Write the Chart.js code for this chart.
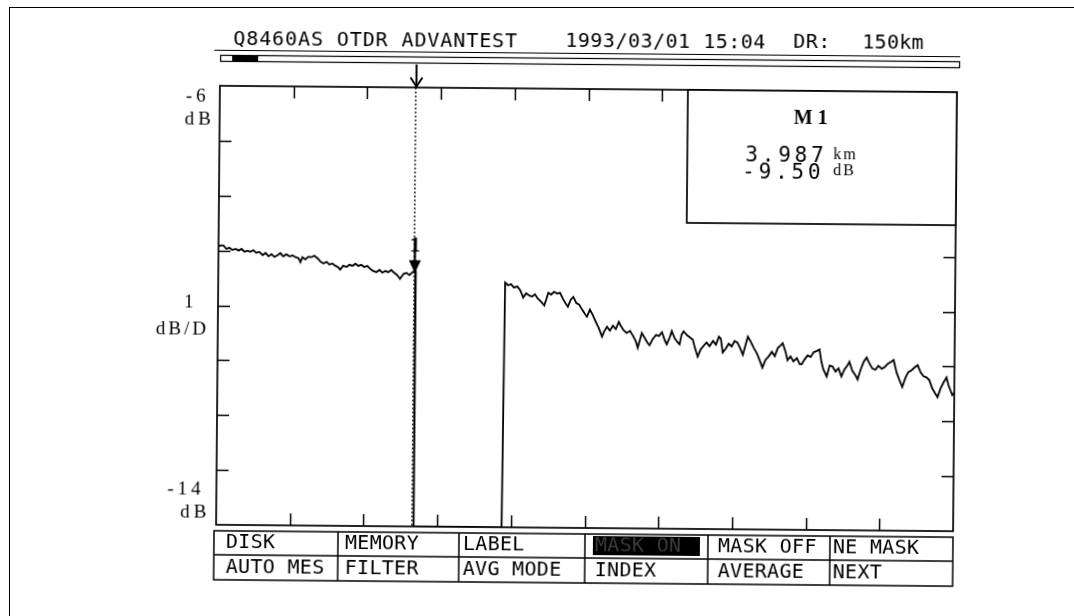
<!DOCTYPE html>
<html>
<head>
<meta charset="utf-8">
<title>OTDR Q8460AS</title>
<script src="https://cdn.jsdelivr.net/npm/chart.js@4.4.0/dist/chart.umd.min.js"></script>
<style>
  html, body { margin: 0; padding: 0; background: #fff; }
  body { width: 1074px; height: 616px; overflow: hidden; position: relative; }
  /* borda do papel (nao esta inclinada como a tela) */
  #papel { position: absolute; left: 9px; top: 7px; width: 1200px; height: 700px;
           border-left: 1.5px solid #000; border-top: 1.5px solid #000; }
  /* a copia escaneada esta levemente girada */
  #tela { position: absolute; left: 0; top: 0; transform-origin: 587px 308px; transform: rotate(0.5deg); }
</style>
</head>
<body>
<div id="papel"></div>
<canvas id="tela" width="1074" height="616"></canvas>
<script>
// Dados do traco (km, dB)
const nearKm = [0.00,0.04,0.10,0.16,0.22,0.28,0.35,0.41,0.47,0.53,0.59,0.65,0.71,0.77,0.83,0.90,0.96,1.02,1.08,1.14,
  1.20,1.26,1.32,1.38,1.45,1.51,1.57,1.63,1.67,1.71,1.77,1.83,1.89,1.95,2.02,2.08,2.14,2.20,2.26,2.32,
  2.38,2.44,2.48,2.54,2.61,2.67,2.73,2.79,2.85,2.91,2.97,3.03,3.09,3.15,3.22,3.28,3.34,3.40,3.46,3.52,
  3.58,3.64,3.70,3.77,3.83,3.89,3.95,4.01];
const nearDb = [-8.93,-8.91,-8.91,-8.97,-8.95,-8.99,-8.97,-9.00,-8.97,-9.02,-9.00,-9.02,-8.99,-9.04,-9.02,-9.08,-9.04,-9.10,-9.06,-9.11,
  -9.08,-9.04,-9.10,-9.06,-9.10,-9.08,-9.11,-9.13,-9.20,-9.11,-9.15,-9.10,-9.11,-9.08,-9.13,-9.19,-9.22,-9.19,-9.24,-9.22,
  -9.26,-9.29,-9.33,-9.26,-9.28,-9.24,-9.26,-9.22,-9.26,-9.24,-9.28,-9.26,-9.31,-9.35,-9.37,-9.33,-9.38,-9.35,-9.37,-9.33,
  -9.38,-9.42,-9.49,-9.40,-9.38,-9.42,-9.37,-9.33];

// zona morta depois do evento
const deadKm = [4.02, 5.81];
const deadDb = [-14, -14];

const farKm = [5.84,5.90,5.96,6.02,6.09,6.15,6.21,6.27,6.33,6.39,6.45,6.51,6.57,6.64,6.68,6.72,6.78,6.84,6.90,6.96,
  7.02,7.08,7.12,7.18,7.23,7.29,7.35,7.41,7.47,7.51,7.57,7.63,7.69,7.75,7.82,7.86,7.92,7.98,8.04,8.10,
  8.16,8.20,8.26,8.32,8.39,8.45,8.51,8.55,8.59,8.63,8.69,8.75,8.79,
  8.85,8.92,8.98,9.04,9.10,9.14,9.20,9.24,9.30,9.36,9.40,9.44,9.48,9.55,9.61,9.67,9.71,9.77,9.83,9.89,
  9.95,10.01,10.08,10.14,10.20,10.24,10.28,10.34,10.40,10.46,10.52,10.58,10.65,10.69,10.75,10.79,10.85,10.91,10.97,11.03,
  11.09,11.15,11.22,11.28,11.34,11.40,11.46,11.50,11.56,11.60,11.66,11.72,11.79,11.85,
  11.89,11.95,12.01,12.07,12.13,12.19,12.25,12.29,12.33,12.40,12.46,12.52,12.58,12.64,12.70,12.76,12.82,12.86,12.92,12.99,
  13.03,13.09,13.15,13.21,13.27,13.33,13.39,13.45,13.52,13.58,13.64,13.70,13.76,13.82,13.88,13.94,14.00,14.06,14.13,14.19,
  14.25,14.31,14.37,14.43,14.49,14.55,14.61,14.66,14.72,14.78,14.84,14.88,14.92,14.96,15.00];
const farDb = [-9.54,-9.59,-9.57,-9.63,-9.61,-9.68,-9.81,-9.73,-9.77,-9.79,-9.75,-9.83,-9.88,-9.95,-9.84,-9.72,-9.75,-9.70,-9.73,-9.72,
  -9.83,-9.92,-9.97,-9.84,-9.79,-9.90,-9.93,-10.02,-10.10,-10.15,-10.02,-10.12,-10.24,-10.35,-10.51,-10.42,-10.33,-10.40,-10.31,-10.37,
  -10.24,-10.31,-10.39,-10.44,-10.40,-10.49,-10.59,-10.71,-10.57,-10.44,-10.53,-10.62,-10.66,
  -10.55,-10.47,-10.49,-10.42,-10.57,-10.64,-10.51,-10.40,-10.53,-10.60,-10.64,-10.46,-10.40,-10.47,-10.51,-10.55,-10.69,-10.86,-10.73,-10.66,
  -10.60,-10.67,-10.57,-10.64,-10.49,-10.53,-10.78,-10.71,-10.62,-10.67,-10.57,-10.60,-10.73,-10.82,-10.62,-10.49,-10.58,-10.69,-10.78,-10.91,
  -11.05,-10.91,-10.84,-10.76,-10.84,-10.69,-10.64,-10.60,-10.76,-10.91,-10.84,-10.93,-10.87,-10.98,
  -10.98,-10.89,-10.82,-10.85,-10.76,-10.74,-10.71,-10.93,-11.07,-11.20,-11.00,-11.02,-11.11,-11.05,-11.20,-11.07,-11.00,-10.93,-11.09,-11.18,
  -11.25,-11.07,-10.93,-10.85,-10.96,-11.05,-11.07,-11.00,-11.05,-11.02,-10.96,-10.93,-10.89,-11.11,-11.25,-11.38,-11.22,-11.11,-11.07,-11.02,
  -10.98,-11.11,-11.18,-11.20,-11.25,-11.40,-11.49,-11.56,-11.40,-11.29,-11.20,-11.34,-11.43,-11.52,-11.47];

// Escalas (divisoes da tela)
const xTicksKm = [0, 1.5, 3, 4.5, 6, 7.5, 9, 10.5, 12, 13.5, 15];
const yTicksDb = [-14, -13, -12, -11, -10, -9, -8, -7, -6];

// Marcador M1
const markerKm = 3.987;
const markerDb = -9.50;

// Textos da tela
const headerModel = 'Q8460AS OTDR ADVANTEST';
const headerDate = '1993/03/01 15:04';
const headerRangeLabel = 'DR:';
const headerRange = '150km';
const softkeysTop = ['DISK', 'MEMORY', 'LABEL', 'MASK ON', 'MASK OFF', 'NE MASK'];
const softkeysBottom = ['AUTO MES', 'FILTER', 'AVG MODE', 'INDEX', 'AVERAGE', 'NEXT'];

function pares(km, db) {
    return km.map((k, i) => ({ x: k, y: db[i] }));
}

function linha(ctx, x1, y1, x2, y2) {
    ctx.beginPath();
    ctx.moveTo(x1, y1);
    ctx.lineTo(x2, y2);
    ctx.stroke();
}

function texto(ctx, str, x, y, font, spacing, baseline) {
    ctx.font = font;
    ctx.letterSpacing = (spacing || 0) + 'px';
    ctx.textAlign = 'left';
    ctx.textBaseline = baseline || 'middle';
    ctx.fillText(str, x, y);
}

const MONO = '"DejaVu Sans Mono", monospace';
const SERIF = '"Liberation Serif", serif';

// Plugin que desenha a moldura e os textos do OTDR
const telaOtdr = {
    id: 'telaOtdr',
    afterDraw: (chart) => {
        const ctx = chart.ctx;
        const a = chart.chartArea;
        const x = chart.scales.x;
        const y = chart.scales.y;
        ctx.save();
        ctx.strokeStyle = '#000';
        ctx.fillStyle = '#000';

        // marcas internas das divisoes
        ctx.lineWidth = 1.5;
        const tl = 12;
        yTicksDb.slice(1, -1).forEach(v => {
            const py = Math.round(y.getPixelForValue(v)) + 0.5;
            linha(ctx, a.left, py, a.left + tl, py);
            linha(ctx, a.right, py, a.right - tl, py);
        });
        xTicksKm.slice(1, -1).forEach(v => {
            const px = Math.round(x.getPixelForValue(v)) + 0.5;
            linha(ctx, px, a.bottom, px, a.bottom - tl);
            linha(ctx, px, a.top, px, a.top + tl);
        });

        // moldura
        ctx.lineWidth = 1.7;
        ctx.strokeRect(a.left, a.top, a.right - a.left, a.bottom - a.top);

        // caixa do marcador
        const bx = 686, by = a.top, bw = a.right - 686, bh = 222 - a.top;
        ctx.fillStyle = '#fff';
        ctx.fillRect(bx, by, bw, bh);
        ctx.fillStyle = '#000';
        ctx.strokeRect(bx, by, bw, bh);
        texto(ctx, 'M1', 792, 122, 'bold 20px ' + SERIF, 5, 'alphabetic');
        texto(ctx, markerKm.toFixed(3), 744, 160, '21px ' + MONO, 3.8, 'alphabetic');
        texto(ctx, 'km', 832, 157, '16px ' + SERIF, 2, 'alphabetic');
        texto(ctx, markerDb.toFixed(2), 741, 177, '21px ' + MONO, 3.8, 'alphabetic');
        texto(ctx, 'dB', 832, 173, '16px ' + SERIF, 2, 'alphabetic');

        // rotulos do eixo Y
        const yTop = y.getPixelForValue(yTicksDb[yTicksDb.length - 1]);
        const yMid = y.getPixelForValue(-10);
        const yBot = y.getPixelForValue(yTicksDb[0]);
        const lf = '19px ' + SERIF;
        texto(ctx, '-6', 184, yTop + 11, lf, 4);
        texto(ctx, 'dB', 183, yTop + 34, lf, 4);
        texto(ctx, '1', 184, yMid - 2, lf, 4);
        texto(ctx, 'dB/D', 156, yMid + 25, lf, 3);
        texto(ctx, '-14', 169, yBot - 35, lf, 4);
        texto(ctx, 'dB', 182, yBot - 12, lf, 4);

        // seta do marcador no topo
        const mx = Math.round(x.getPixelForValue(markerKm)) + 0.5;
        ctx.lineWidth = 2;
        linha(ctx, mx, 66, mx, a.top - 1);
        ctx.beginPath();
        ctx.moveTo(mx - 6, a.top - 10);
        ctx.lineTo(mx, a.top - 1);
        ctx.lineTo(mx + 6, a.top - 10);
        ctx.stroke();

        // marcador "1" sobre o traco
        let iMin = 0;
        nearKm.forEach((k, i) => { if (Math.abs(k - markerKm) < Math.abs(nearKm[iMin] - markerKm)) iMin = i; });
        const tipY = y.getPixelForValue(nearDb[iMin]) + 3;
        ctx.lineWidth = 2.2;
        linha(ctx, mx, tipY - 22, mx, tipY - 12);
        ctx.beginPath();
        ctx.moveTo(mx - 6, tipY - 13);
        ctx.lineTo(mx + 6, tipY - 13);
        ctx.lineTo(mx, tipY);
        ctx.closePath();
        ctx.fill();
        ctx.textAlign = 'center';
        ctx.font = 'bold 22px ' + SERIF;
        ctx.letterSpacing = '0px';
        ctx.textBaseline = 'alphabetic';
        ctx.fillText('1', mx, tipY - 22);

        // cabecalho
        const hf = '20px ' + MONO;
        texto(ctx, headerModel, 231, 43, hf, 0.9);
        texto(ctx, headerDate, 563, 42, hf, 0.5);
        texto(ctx, headerRangeLabel, 791, 41, hf, 0.5);
        texto(ctx, headerRange, 860, 41, hf, 0.3);
        ctx.lineWidth = 1.2;
        linha(ctx, 212, 53.5, 958, 53.5);
        ctx.strokeRect(218.5, 58.5, 739, 6);
        ctx.fillRect(230, 58.5, 26, 6);

        // teclas de funcao
        const tTop = 534, tMid = 558, tBot = 583, tLeft = 216, tRight = a.right;
        const divs = [340, 461, 587, 710, 832];
        const textX = [228, 347, 465, 597, 720, 835];
        ctx.lineWidth = 1.5;
        ctx.strokeRect(tLeft, tTop, tRight - tLeft, tBot - tTop);
        linha(ctx, tLeft, tMid, tRight, tMid);
        divs.forEach(d => linha(ctx, d, tTop, d, tBot));
        ctx.fillRect(595, 536, 107, 19);
        const sf = '20px ' + MONO;
        softkeysTop.forEach((s, i) => {
            ctx.fillStyle = i === 3 ? '#3a3a3a' : '#000';
            texto(ctx, s, textX[i], 546, sf, 0.3);
        });
        ctx.fillStyle = '#000';
        softkeysBottom.forEach((s, i) => texto(ctx, s, textX[i], 570.5, sf, 0.3));

        ctx.restore();
    }
};

document.addEventListener('DOMContentLoaded', function() {
    const canvas = document.getElementById('tela');
    const trace = pares(nearKm, nearDb).concat(pares(deadKm, deadDb), pares(farKm, farDb));
    try {
        window.otdrChart = new Chart(canvas.getContext('2d'), {
            type: 'line',
            data: {
                datasets: [{
                    label: 'Traco',
                    data: trace,
                    borderColor: '#000',
                    borderWidth: 1.8,
                    pointRadius: 0,
                    tension: 0,
                    fill: false
                }, {
                    label: 'M1',
                    data: [{ x: markerKm, y: yTicksDb[yTicksDb.length - 1] }, { x: markerKm, y: yTicksDb[0] }],
                    borderColor: '#000',
                    borderWidth: 1.3,
                    borderDash: [2, 2],
                    pointRadius: 0,
                    fill: false
                }]
            },
            options: {
                responsive: false,
                animation: false,
                devicePixelRatio: 1,
                layout: { padding: { left: 218, top: 89, right: 119, bottom: 88 } },
                scales: {
                    x: { type: 'linear', min: xTicksKm[0], max: xTicksKm[xTicksKm.length - 1], display: false },
                    y: { type: 'linear', min: yTicksDb[0], max: yTicksDb[yTicksDb.length - 1], display: false }
                },
                plugins: {
                    legend: { display: false },
                    tooltip: { enabled: false }
                }
            },
            plugins: [telaOtdr]
        });
    } catch (error) {
        console.error('Erro ao criar o grafico:', error);
    }
});
</script>
</body>
</html>
